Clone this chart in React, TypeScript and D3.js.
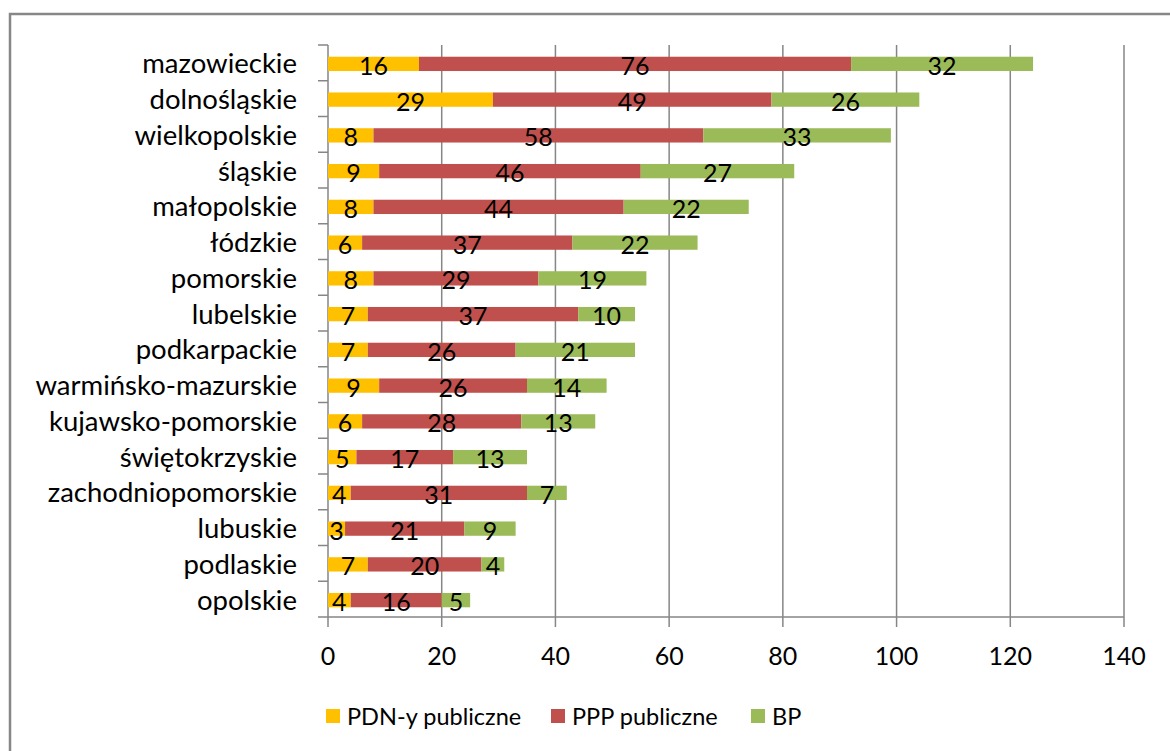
import React from "react";
import * as d3 from "d3";

const categories = [
  "mazowieckie", "dolnośląskie", "wielkopolskie", "śląskie", "małopolskie", "łódzkie",
  "pomorskie", "lubelskie", "podkarpackie", "warmińsko-mazurskie", "kujawsko-pomorskie",
  "świętokrzyskie", "zachodniopomorskie", "lubuskie", "podlaskie", "opolskie",
];
const pdn = [16, 29, 8, 9, 8, 6, 8, 7, 7, 9, 6, 5, 4, 3, 7, 4];
const ppp = [76, 49, 58, 46, 44, 37, 29, 37, 26, 26, 28, 17, 31, 21, 20, 16];
const bp = [32, 26, 33, 27, 22, 22, 19, 10, 21, 14, 13, 13, 7, 9, 4, 5];
const seriesNames = ["PDN-y publiczne", "PPP publiczne", "BP"];
const colors = ["#FFC000", "#C0504D", "#9BBB59"];
const xTicks = [0, 20, 40, 60, 80, 100, 120, 140];

const W = 1170, H = 751;
const FONT = "Lato, 'Open Sans', sans-serif";

export default function App() {
  const x = d3.scaleLinear().domain([0, 140]).range([328, 1124]);
  const y = d3.scaleBand<string>().domain(categories).range([45, 617]).paddingInner(0.6).paddingOuter(0.3);
  const step = y.step();
  const rows = categories.map((c, i) => ({ c, pdn: pdn[i], ppp: ppp[i], bp: bp[i] }));
  const stack = d3.stack<any>().keys(["pdn", "ppp", "bp"])(rows);
  const grid = "#868686";
  const bandTop = (c: string) => (y(c) as number) - step * y.paddingInner() / 2;

  const legendItems = [
    { x: 326, name: seriesNames[0], color: colors[0] },
    { x: 551, name: seriesNames[1], color: colors[1] },
    { x: 751, name: seriesNames[2], color: colors[2] },
  ];

  return (
    <svg width={W} height={H} style={{ position: "absolute", left: 0, top: 0, background: "#fff" }} fontFamily={FONT}>
      <rect x={0} y={0} width={W} height={H} fill="#fff" />
      <rect x={10} y={14} width={1300} height={900} fill="none" stroke="#878787" strokeWidth={2.5} />
      {/* gridlines */}
      {xTicks.slice(1).map((t) => (
        <line key={"g" + t} x1={x(t)} x2={x(t)} y1={45} y2={617} stroke={grid} strokeWidth={1.5} />
      ))}
      {/* y axis */}
      <line x1={328} x2={328} y1={45} y2={617} stroke={grid} strokeWidth={1.5} />
      {categories.map((c) => (
        <line key={"yt" + c} x1={318} x2={328} y1={bandTop(c)} y2={bandTop(c)} stroke={grid} strokeWidth={1.5} />
      ))}
      <line x1={318} x2={328} y1={617} y2={617} stroke={grid} strokeWidth={1.5} />
      {/* x axis */}
      <line x1={328} x2={1124} y1={617} y2={617} stroke={grid} strokeWidth={1.5} />
      {xTicks.map((t) => (
        <g key={"xt" + t}>
          <line x1={x(t)} x2={x(t)} y1={617} y2={627} stroke={grid} strokeWidth={1.5} />
          <text x={x(t)} y={655} textAnchor="middle" dominantBaseline="central" fontSize={25} fill="#000">{t}</text>
        </g>
      ))}
      {/* category labels */}
      {categories.map((c) => (
        <text key={"cl" + c} x={297} y={(y(c) as number) + y.bandwidth() / 2} textAnchor="end" dominantBaseline="central" fontSize={27.5} fill="#000">{c}</text>
      ))}
      {/* bars */}
      {stack.map((s, si) => (
        <g key={"s" + si}>
          {s.map((d: any, i: number) => (
            <rect key={i} x={x(d[0])} y={(y(categories[i]) as number) + 1} width={x(d[1]) - x(d[0])} height={y.bandwidth()} fill={colors[si]} />
          ))}
        </g>
      ))}
      {/* data labels */}
      {stack.map((s, si) => (
        <g key={"l" + si}>
          {s.map((d: any, i: number) => (
            <text key={i} x={(x(d[0]) + x(d[1])) / 2} y={(y(categories[i]) as number) + y.bandwidth() / 2 + 2} textAnchor="middle" dominantBaseline="central" fontSize={25} fill="#000">{d[1] - d[0]}</text>
          ))}
        </g>
      ))}
      {/* legend */}
      {legendItems.map((l) => (
        <g key={l.name}>
          <rect x={l.x} y={709} width={14} height={14} fill={l.color} />
          <text x={l.x + 21} y={716} dominantBaseline="central" fontSize={23.5} fill="#000">{l.name}</text>
        </g>
      ))}
    </svg>
  );
}
